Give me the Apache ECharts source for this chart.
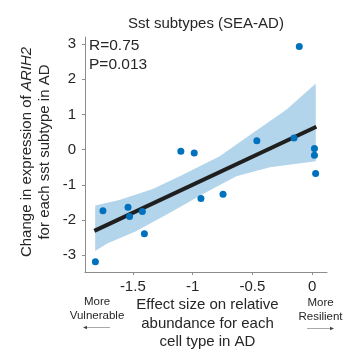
<!DOCTYPE html>
<html>
<head>
<meta charset="utf-8">
<script src="https://cdn.jsdelivr.net/npm/echarts@6/dist/echarts.min.js"></script>
<style>
html,body{margin:0;padding:0;background:#fff;}
#chart{width:346px;height:357px;}
</style>
</head>
<body>
<div id="chart"></div>
<script>
// ---- data ----
const titleText = 'Sst subtypes (SEA-AD)';
const xVals = [-1.813, -1.75, -1.54, -1.527, -1.42, -1.403, -1.098, -0.986, -0.93, -0.745, -0.462, -0.151, -0.107, 0.02, 0.02, 0.03];
const yVals = [-3.19, -1.74, -1.64, -1.90, -1.76, -2.39, -0.05, -0.10, -1.39, -1.27, 0.25, 0.33, 2.93, 0.03, -0.16, -0.68];
const fitX = [-1.822, 0.036];
const fitY = [-2.31, 0.65];
const bandUpperX = [-1.815, -1.613, -1.333, -1.095, -0.773, -0.493, -0.213, 0.031];
const bandUpperY = [-1.59, -1.43, -1.12, -0.74, -0.19, 0.48, 1.14, 1.88];
const bandLowerX = [-1.815, -1.714, -1.473, -1.193, -0.913, -0.633, -0.353, 0.031];
const bandLowerY = [-2.88, -2.67, -2.32, -1.80, -1.26, -0.76, -0.50, -0.33];
const xTicks = [-1.5, -1, -0.5, 0];
const yTicks = [-3, -2, -1, 0, 1, 2, 3];
const statLines = ['R=0.75', 'P=0.013'];

const FONT = '"Liberation Sans", Arial, Helvetica, sans-serif';
const TXT = '#262626';
const AX = '#8c8c8c';

const chart = echarts.init(document.getElementById('chart'), null, {renderer: 'canvas'});

const scatterData = xVals.map((x, i) => [x, yVals[i]]);
const fitData = fitX.map((x, i) => [x, fitY[i]]);

const option = {
  animation: false,
  backgroundColor: '#fff',
  grid: {left: 85, right: 19, top: 37, bottom: 85, containLabel: false},
  title: {
    text: titleText,
    left: 201, top: 11, textAlign: 'center',
    textStyle: {fontFamily: FONT, fontSize: 15, fontWeight: 'normal', color: TXT}
  },
  xAxis: {
    type: 'value', min: -1.9, max: 0.125,
    splitLine: {show: false},
    axisLine: {show: true, onZero: false, lineStyle: {color: AX, width: 1}},
    axisTick: {show: true, length: 3, lineStyle: {color: AX}, customValues: xTicks},
    axisLabel: {customValues: xTicks, fontFamily: FONT, fontSize: 15, color: TXT, margin: 7,
      formatter: v => String(v)}
  },
  yAxis: {
    type: 'value', min: -3.48, max: 3.2,
    splitLine: {show: false},
    axisLine: {show: true, onZero: false, lineStyle: {color: AX, width: 1}},
    axisTick: {show: true, length: 3, lineStyle: {color: AX}, customValues: yTicks},
    axisLabel: {customValues: yTicks, fontFamily: FONT, fontSize: 15, color: TXT, margin: 9,
      formatter: v => String(v)}
  },
  series: [
    {
      type: 'custom',
      z: 1,
      silent: true,
      data: [[0, 0]],
      renderItem: function (params, api) {
        const pts = [];
        for (let i = 0; i < bandUpperX.length; i++) pts.push(api.coord([bandUpperX[i], bandUpperY[i]]));
        for (let i = bandLowerX.length - 1; i >= 0; i--) pts.push(api.coord([bandLowerX[i], bandLowerY[i]]));
        return {type: 'polygon', shape: {points: pts}, style: {fill: '#b3d5ec', stroke: null}};
      }
    },
    {
      type: 'line', z: 2, data: fitData, showSymbol: false, symbol: 'none',
      lineStyle: {color: '#1f1f1f', width: 4}, silent: true
    },
    {
      type: 'scatter', z: 3, data: scatterData, symbolSize: 7,
      itemStyle: {color: '#0072bd', opacity: 1}
    }
  ],
  graphic: [
    {type: 'text', left: 89, top: 38, style: {text: statLines[0], font: '15.5px ' + FONT, fill: TXT}},
    {type: 'text', left: 89, top: 56.5, style: {text: statLines[1], font: '15.5px ' + FONT, fill: TXT}},
    {
      type: 'text', x: 36, y: 152, rotation: Math.PI / 2,
      style: {
        text: 'Change in expression of {i|ARIH2}\nfor each sst subtype in AD',
        font: '15px ' + FONT, fill: TXT, align: 'center', verticalAlign: 'middle', lineHeight: 18,
        rich: {i: {fontStyle: 'italic', fontFamily: FONT, fontSize: 15, fill: TXT}}
      }
    },
    {
      type: 'text', x: 207.5, y: 323.5,
      style: {
        text: 'Effect size on relative\nabundance for each\ncell type in AD',
        font: '15px ' + FONT, fill: TXT, align: 'center', verticalAlign: 'middle', lineHeight: 18.5
      }
    },
    {
      type: 'text', x: 97, y: 308.5,
      style: {text: 'More\nVulnerable', font: '11.5px ' + FONT, fill: TXT, align: 'center', verticalAlign: 'middle', lineHeight: 14}
    },
    {
      type: 'text', x: 320.5, y: 309.5,
      style: {text: 'More\nResilient', font: '11.5px ' + FONT, fill: TXT, align: 'center', verticalAlign: 'middle', lineHeight: 14}
    },
    {type: 'line', shape: {x1: 86, y1: 327.5, x2: 110, y2: 327.5}, style: {stroke: '#aaa', lineWidth: 1}},
    {type: 'polygon', shape: {points: [[83, 327.5], [87, 325.8], [87, 329.2]]}, style: {fill: '#444'}},
    {type: 'line', shape: {x1: 307, y1: 328.5, x2: 331, y2: 328.5}, style: {stroke: '#aaa', lineWidth: 1}},
    {type: 'polygon', shape: {points: [[334, 328.5], [330, 326.8], [330, 330.2]]}, style: {fill: '#444'}}
  ]
};
chart.setOption(option);
</script>
</body>
</html>
